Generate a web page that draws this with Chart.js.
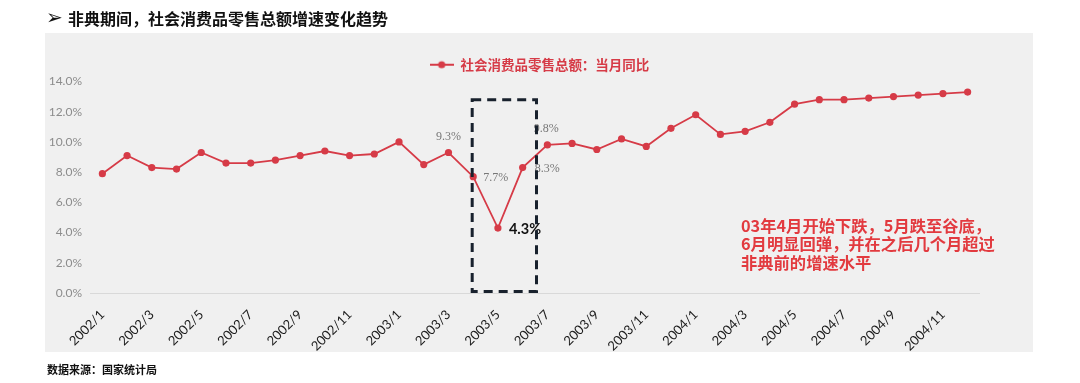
<!DOCTYPE html>
<html>
<head>
<meta charset="utf-8">
<script src="https://cdn.jsdelivr.net/npm/chart.js@4.4.1/dist/chart.umd.min.js"></script>
<style>
  html, body { margin: 0; padding: 0; background: #ffffff; }
  body { width: 1080px; height: 383px; position: relative; overflow: hidden; }
  #panel { position: absolute; left: 45px; top: 33px; width: 988px; height: 319px; background: #f0f0f0; }
  #wrap { position: absolute; left: 0; top: 0; width: 1080px; height: 383px; }
  #title { position: absolute; left: 46px; top: 6px; height: 24px; line-height: 24px; font-family: "Noto Sans CJK SC", "DejaVu Sans", sans-serif; font-weight: bold; font-size: 16px; color: #111; white-space: nowrap; }
  #title .arr { font-family: "DejaVu Sans", sans-serif; font-size: 20px; font-weight: normal; display: inline-block; width: 22px; vertical-align: top; line-height: 22px; }
  #source { position: absolute; left: 47px; top: 361px; line-height: 16px; font-family: "Noto Sans CJK SC", sans-serif; font-weight: bold; font-size: 11px; color: #111; white-space: nowrap; }
  #note { position: absolute; left: 741px; top: 216px; line-height: 18.4px; font-family: "Noto Sans CJK SC", sans-serif; font-weight: bold; font-size: 16.3px; color: #e23a3f; white-space: nowrap; }
</style>
</head>
<body>
<div id="panel"></div>
<div id="wrap"><canvas id="c" width="1080" height="383"></canvas></div>
<div id="title"><span class="arr">➢</span>非典期间，社会消费品零售总额增速变化趋势</div>
<div id="source">数据来源：国家统计局</div>
<div id="note">03年4月开始下跌，5月跌至谷底，<br>6月明显回弹，并在之后几个月超过<br>非典前的增速水平</div>
<script>
const categories = [
  "2002/1","2002/2","2002/3","2002/4","2002/5","2002/6","2002/7","2002/8","2002/9","2002/10","2002/11","2002/12",
  "2003/1","2003/2","2003/3","2003/4","2003/5","2003/6","2003/7","2003/8","2003/9","2003/10","2003/11","2003/12",
  "2004/1","2004/2","2004/3","2004/4","2004/5","2004/6","2004/7","2004/8","2004/9","2004/10","2004/11","2004/12"
];
const retailYoY = [
  7.9, 9.1, 8.3, 8.2, 9.3, 8.6, 8.6, 8.8, 9.1, 9.4, 9.1, 9.2,
  10.0, 8.5, 9.3, 7.7, 4.3, 8.3, 9.8, 9.9, 9.5, 10.2, 9.7, 10.9,
  11.8, 10.5, 10.7, 11.3, 12.5, 12.8, 12.8, 12.9, 13.0, 13.1, 13.2, 13.3
];
const seriesName = "社会消费品零售总额：当月同比";
const yTicks = [0, 2, 4, 6, 8, 10, 12, 14];
const labelledMonths = ["2003/3", "2003/4", "2003/5", "2003/6", "2003/7"];
const boxStart = "2003/4";
const boxEnd = "2003/7";

const RED = "#d63b47";

// legend marker: line with dot
const legendIcon = document.createElement("canvas");
legendIcon.width = 24; legendIcon.height = 10;
(function () {
  const g = legendIcon.getContext("2d");
  g.strokeStyle = RED; g.lineWidth = 2;
  g.beginPath(); g.moveTo(0, 5); g.lineTo(24, 5); g.stroke();
  g.fillStyle = RED; g.beginPath(); g.arc(12, 5, 3.6, 0, Math.PI * 2); g.fill();
})();

const labelStyles = {
  "2003/3": { pos: "above", dx: 0, dy: -16, font: "12px 'Liberation Serif', serif", color: "#777" },
  "2003/4": { pos: "right", dx: 10, dy: 1, font: "12px 'Liberation Serif', serif", color: "#777" },
  "2003/5": { pos: "right", dx: 11, dy: 1, font: "bold 14.5px Lato, sans-serif", color: "#111" },
  "2003/6": { pos: "right", dx: 12, dy: 1, font: "12px 'Liberation Serif', serif", color: "#777" },
  "2003/7": { pos: "above", dx: -1, dy: -16, font: "12px 'Liberation Serif', serif", color: "#777" }
};

const pointLabels = {
  id: "pointLabels",
  afterDatasetsDraw(chart) {
    const ctx = chart.ctx;
    const meta = chart.getDatasetMeta(0);
    ctx.save();
    ctx.textBaseline = "middle";
    labelledMonths.forEach(m => {
      const i = categories.indexOf(m);
      const el = meta.data[i];
      const s = labelStyles[m];
      ctx.font = s.font;
      ctx.fillStyle = s.color;
      ctx.textAlign = s.pos === "above" ? "center" : "left";
      ctx.fillText(retailYoY[i].toFixed(1) + "%", el.x + s.dx, el.y + s.dy);
    });
    ctx.restore();
  }
};

const dashedBox = {
  id: "dashedBox",
  afterDraw(chart) {
    const x = chart.scales.x, y = chart.scales.y;
    const i0 = categories.indexOf(boxStart), i1 = categories.indexOf(boxEnd);
    const left = x.getPixelForValue(i0) - 1;
    const right = (x.getPixelForValue(i1 - 1) + x.getPixelForValue(i1)) / 2 + 1.5;
    const top = y.getPixelForValue(12.8);
    const bottom = y.getPixelForValue(0) - 1.5;
    const ctx = chart.ctx;
    ctx.save();
    ctx.strokeStyle = "#18212d";
    ctx.lineWidth = 3;
    ctx.setLineDash([9, 6]);
    ctx.strokeRect(left, top, right - left, bottom - top);
    ctx.restore();
  }
};

// centre the legend on the page panel rather than on the plot area
const legendShift = {
  id: "legendShift",
  afterLayout(chart) {
    if (chart.legend) { chart.legend.left += 27; chart.legend.right += 27; }
  }
};

new Chart(document.getElementById("c"), {
  type: "line",
  data: {
    labels: categories,
    datasets: [{
      label: seriesName,
      data: retailYoY,
      borderColor: RED,
      backgroundColor: RED,
      borderWidth: 1.8,
      pointRadius: 3.6,
      pointBackgroundColor: RED,
      pointBorderWidth: 0,
      pointHoverRadius: 3.6,
      tension: 0
    }]
  },
  options: {
    responsive: false,
    animation: false,
    events: [],
    layout: { padding: { left: 45, right: 100, top: 48, bottom: 31 } },
    plugins: {
      tooltip: { enabled: false },
      legend: {
        display: true,
        position: "top",
        labels: {
          usePointStyle: true,
          pointStyle: legendIcon,
          pointStyleWidth: 24,
          padding: 10,
          color: RED,
          font: { family: "'Noto Sans CJK SC', sans-serif", size: 13.5, weight: "bold" }
        }
      }
    },
    scales: {
      x: {
        type: "category",
        offset: true,
        grid: { display: false },
        border: { display: false },
        ticks: {
          autoSkip: false,
          maxRotation: 45,
          minRotation: 45,
          padding: 6,
          color: "#1a1a1a",
          font: { family: "Lato, sans-serif", size: 13 },
          callback: function (v, i) { return i % 2 === 0 ? categories[i] : ""; }
        },
        afterFit(scale) { scale.height = 59; }
      },
      y: {
        min: yTicks[0],
        max: yTicks[yTicks.length - 1],
        afterBuildTicks(scale) { scale.ticks = yTicks.map(v => ({ value: v })); },
        border: { display: false },
        grid: {
          drawTicks: false,
          color: ctx => (ctx.tick && ctx.tick.value === 0 ? "#d9d9d9" : "rgba(0,0,0,0)"),
          lineWidth: 1
        },
        ticks: {
          padding: 8,
          color: "#8c8c8c",
          font: { family: "Lato, sans-serif", size: 12 },
          callback: v => Number(v).toFixed(1) + "%"
        },
        afterFit(scale) { scale.width = 45; }
      }
    }
  },
  plugins: [pointLabels, dashedBox, legendShift]
});
</script>
</body>
</html>
